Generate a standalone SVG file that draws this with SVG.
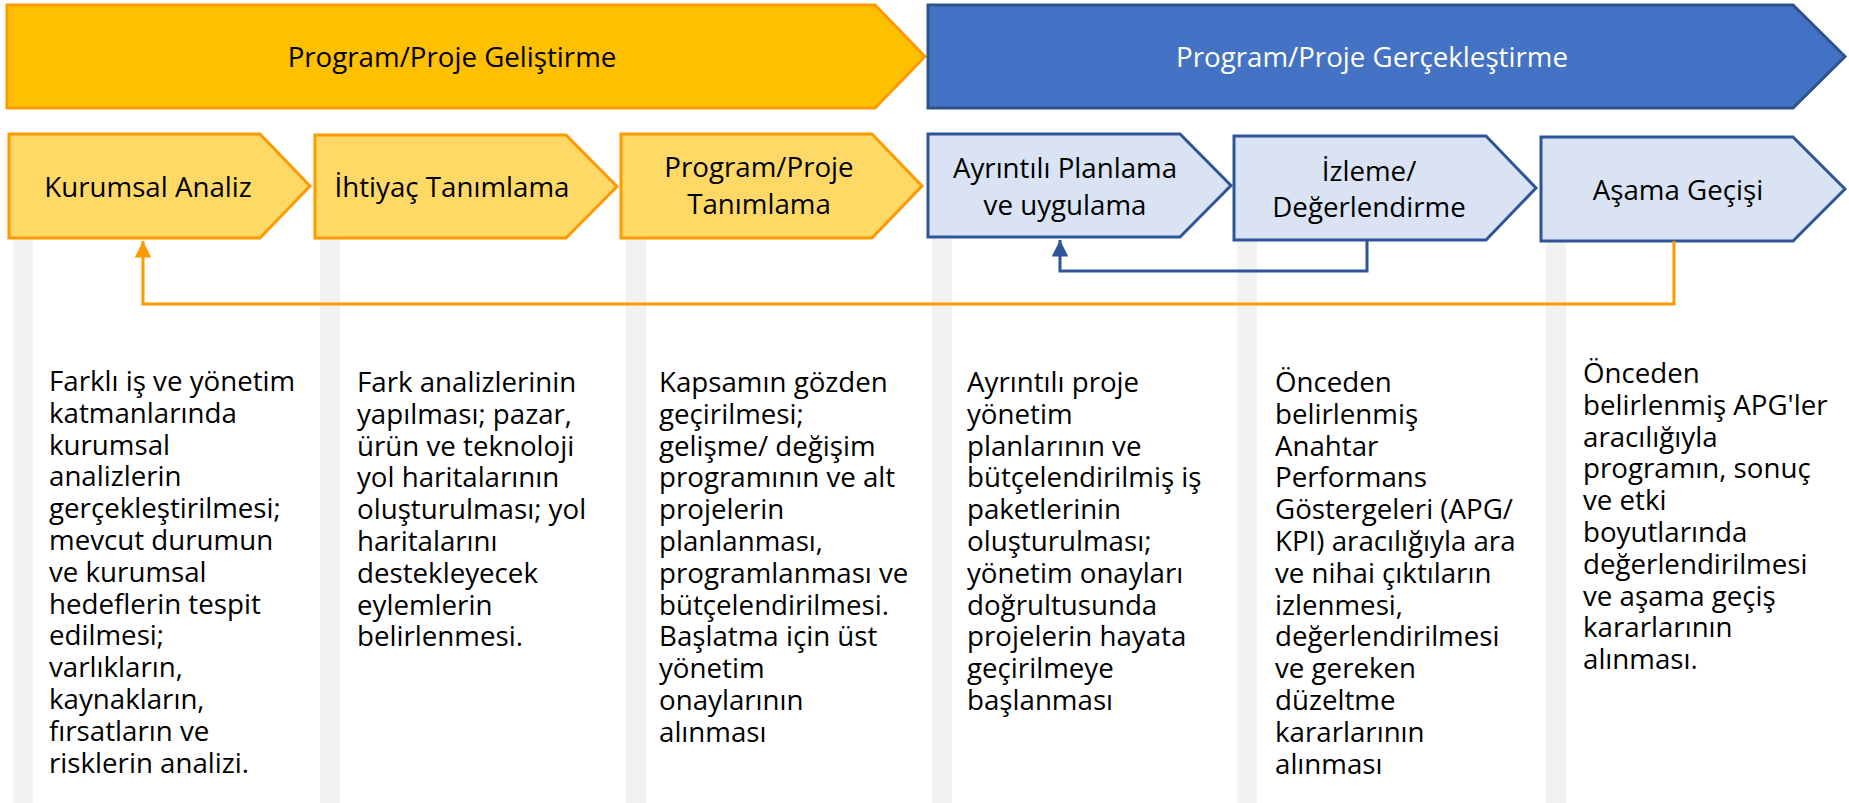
<svg xmlns="http://www.w3.org/2000/svg" width="1849" height="803" viewBox="0 0 1849 803">
  <defs>
    <style>
      text { font-family: "Open Sans", "Noto Sans", "Liberation Sans", sans-serif; font-size: 27.7px; fill: #000; }
      .lbl { text-anchor: middle; }
      .wht { fill: #ffffff; }
      .bar { fill: #f2f2f2; }
      .ban-y { fill: #ffc000; stroke: #ff9900; stroke-width: 3; }
      .ban-b { fill: #4472c4; stroke: #2f528f; stroke-width: 3; }
      .box-y { fill: #ffd966; stroke: #ff9900; stroke-width: 3; }
      .box-b { fill: #dae3f3; stroke: #2f5597; stroke-width: 3; }
      .con-o { fill: none; stroke: #ff9900; stroke-width: 3; }
      .con-b { fill: none; stroke: #2f5597; stroke-width: 3; }
    </style>
    <marker id="arr-o" viewBox="0 0 10 10" refX="10" refY="5" markerWidth="5.5" markerHeight="5.5" markerUnits="strokeWidth" orient="auto">
      <path d="M0,0 L10,5 L0,10 Z" fill="#ff9900"/>
    </marker>
    <marker id="arr-b" viewBox="0 0 10 10" refX="10" refY="5" markerWidth="5.5" markerHeight="5.5" markerUnits="strokeWidth" orient="auto">
      <path d="M0,0 L10,5 L0,10 Z" fill="#2f5597"/>
    </marker>
  </defs>

  <rect width="1849" height="803" fill="#ffffff"/>

  <g id="columns">
    <rect class="bar" x="13" y="237" width="20" height="566"/>
    <rect class="bar" x="320" y="237" width="20" height="566"/>
    <rect class="bar" x="626" y="237" width="20" height="566"/>
    <rect class="bar" x="932" y="237" width="20" height="566"/>
    <rect class="bar" x="1237" y="237" width="20" height="566"/>
    <rect class="bar" x="1546" y="237" width="20" height="566"/>
  </g>

  <g id="phase-gelistirme">
    <polygon class="ban-y" points="7,5 875,5 925,56.5 875,108 7,108"/>
    <text class="lbl" x="452" y="67">Program/Proje Geliştirme</text>
  </g>
  <g id="phase-gerceklestirme">
    <polygon class="ban-b" points="928,5 1793,5 1845,56.5 1793,108 928,108"/>
    <text class="lbl wht" x="1372" y="67">Program/Proje Gerçekleştirme</text>
  </g>

  <g id="step-kurumsal-analiz">
    <polygon class="box-y" points="9,134 260,134 310,186 260,238 9,238"/>
    <text class="lbl" x="148" y="197">Kurumsal Analiz</text>
  </g>
  <g id="step-ihtiyac">
    <polygon class="box-y" points="315,135 566,135 617,186.5 566,238 315,238"/>
    <text class="lbl" x="452" y="197">İhtiyaç Tanımlama</text>
  </g>
  <g id="step-tanimlama">
    <polygon class="box-y" points="621,134 872,134 922,186 872,238 621,238"/>
    <text class="lbl" x="759" y="177">Program/Proje</text>
    <text class="lbl" x="759" y="214">Tanımlama</text>
  </g>
  <g id="step-planlama">
    <polygon class="box-b" points="928,134 1180,134 1231,185.5 1180,237 928,237"/>
    <text class="lbl" x="1065" y="178">Ayrıntılı Planlama</text>
    <text class="lbl" x="1065" y="215">ve uygulama</text>
  </g>
  <g id="step-izleme">
    <polygon class="box-b" points="1234,136 1486,136 1536,188 1486,240 1234,240"/>
    <text class="lbl" x="1369" y="181">İzleme/</text>
    <text class="lbl" x="1369" y="217">Değerlendirme</text>
  </g>
  <g id="step-asama">
    <polygon class="box-b" points="1541,137 1793,137 1845,189 1793,241 1541,241"/>
    <text class="lbl" x="1678" y="200">Aşama Geçişi</text>
  </g>

  <g id="connectors">
    <path class="con-o" d="M1674,241 V304 H143 V241" marker-end="url(#arr-o)"/>
    <path class="con-b" d="M1367,240 V271 H1060 V240" marker-end="url(#arr-b)"/>
  </g>

  <g id="desc-1">
    <text x="49" y="391">
      <tspan x="49">Farklı iş ve yönetim</tspan>
      <tspan x="49" dy="31.8">katmanlarında</tspan>
      <tspan x="49" dy="31.8">kurumsal</tspan>
      <tspan x="49" dy="31.8">analizlerin</tspan>
      <tspan x="49" dy="31.8">gerçekleştirilmesi;</tspan>
      <tspan x="49" dy="31.8">mevcut durumun</tspan>
      <tspan x="49" dy="31.8">ve kurumsal</tspan>
      <tspan x="49" dy="31.8">hedeflerin tespit</tspan>
      <tspan x="49" dy="31.8">edilmesi;</tspan>
      <tspan x="49" dy="31.8">varlıkların,</tspan>
      <tspan x="49" dy="31.8">kaynakların,</tspan>
      <tspan x="49" dy="31.8">fırsatların ve</tspan>
      <tspan x="49" dy="31.8">risklerin analizi.</tspan>
    </text>
  </g>
  <g id="desc-2">
    <text x="357" y="392">
      <tspan x="357">Fark analizlerinin</tspan>
      <tspan x="357" dy="31.8">yapılması; pazar,</tspan>
      <tspan x="357" dy="31.8">ürün ve teknoloji</tspan>
      <tspan x="357" dy="31.8">yol haritalarının</tspan>
      <tspan x="357" dy="31.8">oluşturulması; yol</tspan>
      <tspan x="357" dy="31.8">haritalarını</tspan>
      <tspan x="357" dy="31.8">destekleyecek</tspan>
      <tspan x="357" dy="31.8">eylemlerin</tspan>
      <tspan x="357" dy="31.8">belirlenmesi.</tspan>
    </text>
  </g>
  <g id="desc-3">
    <text x="659" y="392">
      <tspan x="659">Kapsamın gözden</tspan>
      <tspan x="659" dy="31.8">geçirilmesi;</tspan>
      <tspan x="659" dy="31.8">gelişme/ değişim</tspan>
      <tspan x="659" dy="31.8">programının ve alt</tspan>
      <tspan x="659" dy="31.8">projelerin</tspan>
      <tspan x="659" dy="31.8">planlanması,</tspan>
      <tspan x="659" dy="31.8">programlanması ve</tspan>
      <tspan x="659" dy="31.8">bütçelendirilmesi.</tspan>
      <tspan x="659" dy="31.8">Başlatma için üst</tspan>
      <tspan x="659" dy="31.8">yönetim</tspan>
      <tspan x="659" dy="31.8">onaylarının</tspan>
      <tspan x="659" dy="31.8">alınması</tspan>
    </text>
  </g>
  <g id="desc-4">
    <text x="967" y="392">
      <tspan x="967">Ayrıntılı proje</tspan>
      <tspan x="967" dy="31.8">yönetim</tspan>
      <tspan x="967" dy="31.8">planlarının ve</tspan>
      <tspan x="967" dy="31.8">bütçelendirilmiş iş</tspan>
      <tspan x="967" dy="31.8">paketlerinin</tspan>
      <tspan x="967" dy="31.8">oluşturulması;</tspan>
      <tspan x="967" dy="31.8">yönetim onayları</tspan>
      <tspan x="967" dy="31.8">doğrultusunda</tspan>
      <tspan x="967" dy="31.8">projelerin hayata</tspan>
      <tspan x="967" dy="31.8">geçirilmeye</tspan>
      <tspan x="967" dy="31.8">başlanması</tspan>
    </text>
  </g>
  <g id="desc-5">
    <text x="1275" y="392">
      <tspan x="1275">Önceden</tspan>
      <tspan x="1275" dy="31.8">belirlenmiş</tspan>
      <tspan x="1275" dy="31.8">Anahtar</tspan>
      <tspan x="1275" dy="31.8">Performans</tspan>
      <tspan x="1275" dy="31.8">Göstergeleri (APG/</tspan>
      <tspan x="1275" dy="31.8">KPI) aracılığıyla ara</tspan>
      <tspan x="1275" dy="31.8">ve nihai çıktıların</tspan>
      <tspan x="1275" dy="31.8">izlenmesi,</tspan>
      <tspan x="1275" dy="31.8">değerlendirilmesi</tspan>
      <tspan x="1275" dy="31.8">ve gereken</tspan>
      <tspan x="1275" dy="31.8">düzeltme</tspan>
      <tspan x="1275" dy="31.8">kararlarının</tspan>
      <tspan x="1275" dy="31.8">alınması</tspan>
    </text>
  </g>
  <g id="desc-6">
    <text x="1583" y="383">
      <tspan x="1583">Önceden</tspan>
      <tspan x="1583" dy="31.8">belirlenmiş APG'ler</tspan>
      <tspan x="1583" dy="31.8">aracılığıyla</tspan>
      <tspan x="1583" dy="31.8">programın, sonuç</tspan>
      <tspan x="1583" dy="31.8">ve etki</tspan>
      <tspan x="1583" dy="31.8">boyutlarında</tspan>
      <tspan x="1583" dy="31.8">değerlendirilmesi</tspan>
      <tspan x="1583" dy="31.8">ve aşama geçiş</tspan>
      <tspan x="1583" dy="31.8">kararlarının</tspan>
      <tspan x="1583" dy="31.8">alınması.</tspan>
    </text>
  </g>
</svg>
